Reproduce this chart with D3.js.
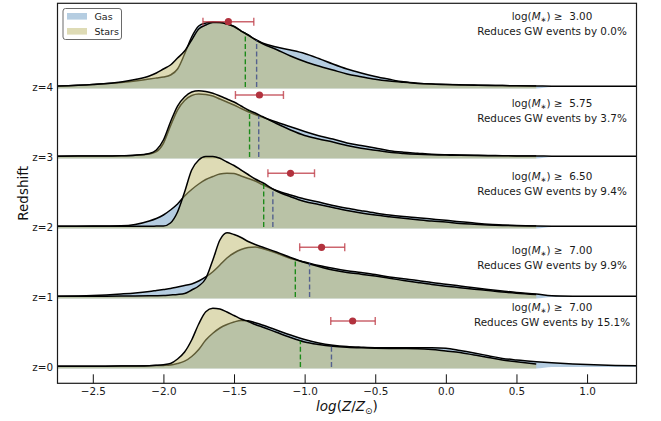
<!DOCTYPE html>
<html>
<head>
<meta charset="utf-8">
<script src="https://cdn.jsdelivr.net/npm/d3@7"></script>
<style>
  html, body { margin: 0; padding: 0; background: #fff; }
  svg { display: block; font-family: "DejaVu Sans", sans-serif; }
  text { white-space: pre; }
</style>
</head>
<body>
<svg id="chart" width="661" height="421"></svg>
<script>
// log(Z/Zsun) sample points of the density estimates
const metalGrid = [-2.75, -2.5, -2.3, -2.2, -2.1, -2.05, -2.0, -1.95, -1.9, -1.85,
  -1.8, -1.75, -1.7, -1.65, -1.6, -1.55, -1.5, -1.45, -1.4, -1.35,
  -1.3, -1.2, -1.1, -1.0, -0.9, -0.8, -0.7, -0.6, -0.5, -0.4,
  -0.3, -0.2, -0.1, 0.0, 0.1, 0.2, 0.3, 0.4, 0.5, 0.64];
// gas estimates continue past the stellar range
const gasTailGrid = [0.75, 0.9, 1.05, 1.2, 1.35];

const redshifts = [4, 3, 2, 1, 0];

// density (arbitrary units) per redshift, gas includes the tail points
const gasZ4 = [0.8, 2.5, 4.5, 6, 8, 9, 10, 12, 18, 33, 50, 61, 64, 65, 64.5, 63, 60.5, 56, 52, 47.5,
  44, 40, 37, 33.5, 28.5, 23, 18, 14, 10.5, 7.7, 5.2, 3.8, 3.0, 2.6, 2.2, 1.9, 1.7, 1.4, 1.2, 1.0,
  0.8, 0.7, 0.7, 0.7, 0.7];
const gasZ3 = [0.8, 1, 1.3, 1.7, 3, 5.3, 13.7, 31, 47, 56.5, 61.5, 63, 62.5, 61, 58, 55, 52, 48.5, 45.3, 42.5,
  40, 35, 30.3, 25.5, 21.3, 18, 14, 11.5, 9, 6.3, 4.8, 3.8, 2.8, 2.3, 2.0, 1.7, 1.5, 1.3, 1.1, 1.0,
  0.8, 0.7, 0.7, 0.7, 0.7];
const gasZ2 = [0.8, 0.9, 1.2, 2.5, 6, 8.5, 12, 17, 23, 31, 37.5, 43, 47.5, 50.5, 53, 53.7, 53.5, 51, 48.5, 46,
  42.5, 36.5, 32, 28, 25, 21.5, 18.7, 16.3, 14, 12, 10.5, 9.3, 8, 6.7, 5.2, 4, 2.8, 2.1, 1.5, 1.0,
  0.8, 0.7, 0.7, 0.7, 0.7];
const gasZ1 = [0.8, 1.5, 3, 4, 5.5, 6.5, 7.5, 8.5, 10, 11.5, 13, 16, 20, 25.3, 32, 39, 44, 47.5, 49.5, 50,
  48.5, 44, 38.5, 35, 31.5, 28.7, 26.3, 24.5, 22.5, 20, 18.2, 16.5, 14.5, 12.8, 11, 9.2, 7.5, 6, 4.5, 3,
  1.2, 0.8, 0.7, 0.7, 0.7];
const gasZ0 = [0.8, 0.8, 0.9, 1, 1.2, 1.4, 1.6, 2, 3.5, 5.8, 10.5, 17.5, 27, 33.7, 39, 42.5, 45, 46.5, 46.2, 44.2,
  42, 37, 32, 27.5, 24, 21.8, 20.5, 19.8, 19.3, 19.2, 19.2, 19.3, 19.2, 18.7, 16.5, 14, 11.3, 8.6, 7, 5.3,
  4.2, 3.0, 2.2, 1.6, 1.2];

const starsZ4 = [1.0, 2.5, 5, 7.5, 11, 14, 18, 22, 29, 36, 47, 58, 62, 64.5, 64.5, 63, 60.5, 56, 52, 47.5,
  43.5, 37.5, 31, 25.5, 21, 17, 13, 10.3, 7.8, 6, 4.7, 3.6, 2.9, 2.5, 2.1, 1.8, 1.6, 1.4, 1.2, 1.0];
const starsZ3 = [0.8, 1, 1.3, 1.8, 3.5, 7, 17, 35, 51, 60, 65, 66.3, 65.5, 63.7, 61, 58, 55, 51, 47, 44,
  40.5, 33.5, 27, 21.5, 18, 15, 11.5, 8.7, 6.8, 4.7, 3.5, 2.7, 2.2, 1.9, 1.7, 1.5, 1.3, 1.2, 1.1, 1.0];
const starsZ2 = [0.8, 0.8, 0.8, 0.8, 0.8, 0.9, 1, 4, 15, 35, 57, 67, 70.5, 70.5, 68.7, 65, 61.5, 57, 52.5, 48,
  44.5, 36, 30.3, 25.5, 22.5, 19.5, 16.5, 14, 12, 10.3, 8.7, 7.3, 6, 5, 3.6, 2.8, 2.1, 1.6, 1.2, 1.0];
const starsZ1 = [0.8, 0.8, 0.9, 1, 1.2, 1.3, 1.5, 2, 2.5, 3.5, 7, 11, 18.5, 37, 57, 64.3, 62.5, 59.5, 55.5, 52.5,
  50, 45, 39.5, 34.5, 30.5, 27, 24.5, 22.8, 21, 18.7, 16.6, 14.5, 12.5, 10.8, 9.3, 7.8, 6.5, 5, 3.8, 2.5];
const starsZ0 = [0.8, 0.8, 0.9, 1, 1.3, 1.7, 2.3, 3.5, 8, 15, 27, 43, 55.3, 58.7, 58, 55, 51.5, 48, 45.5, 42.5,
  40, 34.7, 29.5, 25, 22.5, 20.8, 19.8, 19.2, 18.8, 18.6, 18.5, 18.3, 17.5, 16, 14.5, 12, 9.5, 7, 5.3, 3];

// medians (stars / gas) and the observed metallicity with its range, per redshift
const starsMedian = [-1.42, -1.39, -1.29, -1.066, -1.03];
const gasMedian = [-1.34, -1.325, -1.225, -0.965, -0.81];
const obsValue = [-1.54, -1.32, -1.10, -0.88, -0.66];
const obsLow = [-1.72, -1.49, -1.26, -1.035, -0.815];
const obsHigh = [-1.36, -1.15, -0.93, -0.716, -0.50];
// height of the observation marker and of the caption above each baseline (redshift units)
const obsLift = [0.933, 0.886, 0.767, 0.71, 0.657];
const captionLift = [0.961, 0.71, 0.671, 0.614, 0.796];

const massCut = ["3.00", "5.75", "6.50", "7.00", "7.00"];
const reduction = ["0.0", "3.7", "9.4", "9.9", "15.1"];

const xTicks = [-2.5, -2.0, -1.5, -1.0, -0.5, 0.0, 0.5, 1.0];
const seriesNames = ["Gas", "Stars"];

// ---------------------------------------------------------------
const gasSeries = [gasZ4, gasZ3, gasZ2, gasZ1, gasZ0];
const starsSeries = [starsZ4, starsZ3, starsZ2, starsZ1, starsZ0];
const gasGrid = metalGrid.concat(gasTailGrid);

const svg = d3.select("#chart");
const plot = { left: 57.5, right: 636.5, top: 3.3, bottom: 383.3 };

const x = d3.scaleLinear().domain([-2.75, 1.35]).range([plot.left, plot.right]);
const y = d3.scaleLinear().domain([-0.233, 5.196]).range([plot.bottom, plot.top]);
// density units -> redshift offset above the baseline
const ridge = d3.scaleLinear().domain([0, 70]).range([0, 1]);
const stripDepth = 0.022;
const supportEnd = 0.645;

const gasFill = "steelblue", gasAlpha = 0.4;
const starFill = "darkkhaki", starAlpha = 0.5;

svg.append("defs").append("clipPath").attr("id", "plotClip")
  .append("rect")
  .attr("x", plot.left).attr("y", plot.top)
  .attr("width", plot.right - plot.left).attr("height", plot.bottom - plot.top);

const body = svg.append("g").attr("clip-path", "url(#plotClip)");

function pairs(grid, vals) { return grid.map((g, i) => [g, vals[i]]); }

function heightAt(grid, vals, xv) {
  const i = Math.min(Math.max(d3.bisectRight(grid, xv), 1), grid.length - 1);
  const t = (xv - grid[i - 1]) / (grid[i] - grid[i - 1]);
  return vals[i - 1] + t * (vals[i] - vals[i - 1]);
}

redshifts.forEach((z, i) => {
  const g = body.append("g");
  const area = d3.area()
    .x(d => x(d[0]))
    .y0(d => y(d[0] <= supportEnd ? z - stripDepth : z))
    .y1(d => y(z + ridge(d[1])))
    .curve(d3.curveMonotoneX);
  const line = d3.line()
    .x(d => x(d[0]))
    .y(d => y(z + ridge(d[1])))
    .curve(d3.curveMonotoneX);

  const gasPts = pairs(gasGrid, gasSeries[i]);
  const starPts = pairs(metalGrid, starsSeries[i]);

  g.append("path").attr("d", area(gasPts))
    .attr("fill", gasFill).attr("fill-opacity", gasAlpha);
  g.append("path").attr("d", line(gasPts))
    .attr("fill", "none").attr("stroke", "#000").attr("stroke-width", 1.5);
  g.append("path").attr("d", area(starPts))
    .attr("fill", starFill).attr("fill-opacity", starAlpha);
  g.append("path").attr("d", line(starPts))
    .attr("fill", "none").attr("stroke", "#000").attr("stroke-width", 1.5);

  // medians
  const hs = heightAt(metalGrid, starsSeries[i], starsMedian[i]);
  const hg = heightAt(gasGrid, gasSeries[i], gasMedian[i]);
  g.append("line")
    .attr("x1", x(starsMedian[i])).attr("x2", x(starsMedian[i]))
    .attr("y1", y(z)).attr("y2", y(z + ridge(hs)))
    .attr("stroke", "green").attr("stroke-opacity", 0.85)
    .attr("stroke-width", 1.4).attr("stroke-dasharray", "5,2.6");
  g.append("line")
    .attr("x1", x(gasMedian[i])).attr("x2", x(gasMedian[i]))
    .attr("y1", y(z)).attr("y2", y(z + ridge(hg)))
    .attr("stroke", "#43508a").attr("stroke-opacity", 0.85)
    .attr("stroke-width", 1.4).attr("stroke-dasharray", "5,2.6");

  // observed value with its range
  const oy = y(z + obsLift[i]);
  const eb = g.append("g").attr("stroke", "#bf3f4a").attr("stroke-opacity", 0.8).attr("stroke-width", 1.4);
  eb.append("line").attr("x1", x(obsLow[i])).attr("x2", x(obsHigh[i])).attr("y1", oy).attr("y2", oy);
  eb.append("line").attr("x1", x(obsLow[i])).attr("x2", x(obsLow[i])).attr("y1", oy - 4).attr("y2", oy + 4);
  eb.append("line").attr("x1", x(obsHigh[i])).attr("x2", x(obsHigh[i])).attr("y1", oy - 4).attr("y2", oy + 4);
  g.append("circle").attr("cx", x(obsValue[i])).attr("cy", oy).attr("r", 3.6)
    .attr("fill", "#b2323e");

  // caption
  const cy = y(z + captionLift[i]);
  const t1 = svg.append("text").attr("x", 552).attr("y", cy)
    .attr("text-anchor", "middle").attr("font-size", 10.4).attr("fill", "#1a1a1a");
  t1.append("tspan").text("log(");
  t1.append("tspan").attr("font-style", "italic").text("M");
  t1.append("tspan").attr("font-size", 7).attr("dy", 2).text("\u2217");
  t1.append("tspan").attr("dy", -2).text(") \u2265\u00a0 " + massCut[i]);
  svg.append("text").attr("x", 552).attr("y", cy + 15)
    .attr("text-anchor", "middle").attr("font-size", 10.4).attr("fill", "#1a1a1a")
    .text("Reduces GW events by " + reduction[i] + "%");
});

// axes
const xAxis = d3.axisBottom(x)
  .tickValues(xTicks)
  .tickFormat(d3.format(".1f"))
  .tickSizeInner(-9).tickSizeOuter(0).tickPadding(4.8);
const gx = svg.append("g").attr("transform", `translate(0,${plot.bottom})`).call(xAxis);
gx.select(".domain").remove();
gx.selectAll(".tick line").attr("stroke", "#111").attr("stroke-width", 1);
gx.selectAll(".tick text").attr("font-size", 10.4).attr("fill", "#1a1a1a")
  .attr("font-family", "DejaVu Sans");

const yAxis = d3.axisLeft(y)
  .tickValues(redshifts)
  .tickFormat(d => "z=" + d)
  .tickSize(0).tickPadding(4.5);
const gy = svg.append("g").attr("transform", `translate(${plot.left},0)`).call(yAxis);
gy.select(".domain").remove();
gy.selectAll(".tick text").attr("font-size", 10.4).attr("fill", "#1a1a1a")
  .attr("font-family", "DejaVu Sans");

// frame
svg.append("rect")
  .attr("x", plot.left).attr("y", plot.top)
  .attr("width", plot.right - plot.left).attr("height", plot.bottom - plot.top)
  .attr("fill", "none").attr("stroke", "#1a1a1a").attr("stroke-width", 1.2);

// axis titles
const xl = svg.append("text").attr("x", (plot.left + plot.right) / 2).attr("y", 411)
  .attr("text-anchor", "middle").attr("font-size", 13.5).attr("fill", "#111");
xl.append("tspan").attr("font-style", "italic").text("log");
xl.append("tspan").text("(");
xl.append("tspan").attr("font-style", "italic").text("Z");
xl.append("tspan").text("/");
xl.append("tspan").attr("font-style", "italic").text("Z");
xl.append("tspan").attr("font-size", 9).attr("dy", 3).text("\u2299");
xl.append("tspan").attr("dy", -3).text(")");

svg.append("text")
  .attr("transform", `translate(28.3,${(plot.top + plot.bottom) / 2}) rotate(-90)`)
  .attr("text-anchor", "middle").attr("font-size", 13.5).attr("fill", "#111")
  .text("Redshift");

// legend
const lg = svg.append("g");
lg.append("rect").attr("x", 63).attr("y", 8.5).attr("width", 58.5).attr("height", 31)
  .attr("rx", 2.5).attr("fill", "#fff").attr("fill-opacity", 0.85)
  .attr("stroke", "#6a6a6a").attr("stroke-width", 1);
const legendFill = [[gasFill, gasAlpha], [starFill, starAlpha]];
seriesNames.forEach((name, i) => {
  const yy = 13 + i * 15;
  lg.append("rect").attr("x", 67).attr("y", yy).attr("width", 20).attr("height", 6.6)
    .attr("fill", legendFill[i][0]).attr("fill-opacity", legendFill[i][1]);
  lg.append("text").attr("x", 94.5).attr("y", yy + 6.6).attr("font-size", 9.5)
    .attr("fill", "#1a1a1a").text(name);
});
</script>
</body>
</html>
